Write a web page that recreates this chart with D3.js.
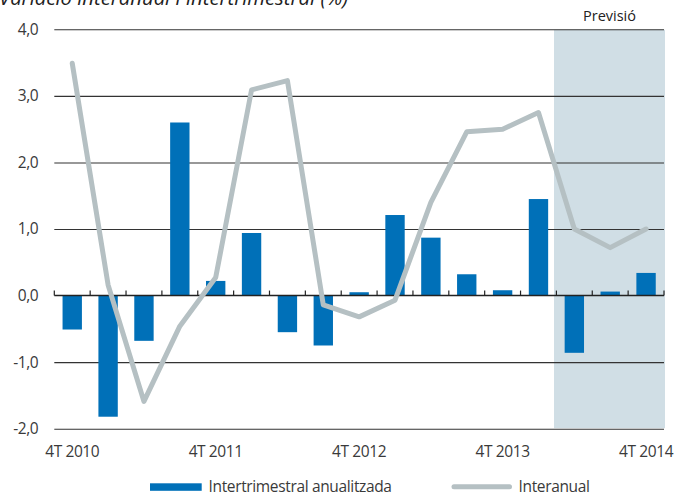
<!DOCTYPE html>
<html>
<head>
<meta charset="utf-8">
<script src="https://cdn.jsdelivr.net/npm/d3@7"></script>
<style>
  html, body { margin: 0; padding: 0; background: #fff; }
  svg { display: block; }
  text { font-family: "Open Sans", "Noto Sans", sans-serif; fill: #3a3a3a; }
</style>
</head>
<body>
<svg id="chart" width="688" height="493"></svg>
<script>
// ---- Data ----
const categories = [
  "4T 2010", "1T 2011", "2T 2011", "3T 2011", "4T 2011",
  "1T 2012", "2T 2012", "3T 2012", "4T 2012",
  "1T 2013", "2T 2013", "3T 2013", "4T 2013",
  "1T 2014", "2T 2014", "3T 2014", "4T 2014"
];
const intertrimestral = [
  -0.51, -1.82, -0.68, 2.60, 0.22,
  0.94, -0.55, -0.75, 0.05,
  1.21, 0.87, 0.32, 0.08,
  1.45, -0.86, 0.06, 0.34
];
const interanual = [
  3.49, 0.16, -1.59, -0.46, 0.27,
  3.09, 3.23, -0.14, -0.32,
  -0.07, 1.40, 2.46, 2.50,
  2.75, 1.00, 0.72, 1.00
];
const xTickLabels = ["4T 2010", "4T 2011", "4T 2012", "4T 2013", "4T 2014"];
const yTicks = [-2, -1, 0, 1, 2, 3, 4];
const forecastStart = "2T 2014";
const title = "Variació interanual i intertrimestral (%)";
const forecastLabel = "Previsió";
const legendLabels = ["Intertrimestral anualitzada", "Interanual"];

(function () {
// ---- Layout ----
const svg = d3.select("#chart");
const mLeft = 54.3, mRight = 664, mTop = 29.3, mBottom = 428.7;
const barColor = "#0070b8";
const lineColor = "#b5c0c3";
const shadeColor = "#d0dee5";

const x = d3.scaleBand().domain(categories).range([mLeft, mRight])
  .paddingInner(0.46).paddingOuter(0.23);
const step = x.step();
const edge = c => x(c) - step * 0.23;
const center = c => x(c) + x.bandwidth() / 2;
const y = d3.scaleLinear().domain([-2, 4]).range([mBottom, mTop]);

// title
svg.append("text").attr("x", -1).attr("y", 5)
  .attr("font-style", "italic").attr("font-size", 20.3)
  .style("fill", "#222").text(title);

// forecast shading
const shadeX = edge(forecastStart) - 2.4;
svg.append("rect")
  .attr("x", shadeX)
  .attr("y", y(4) + 0.5)
  .attr("width", mRight + 1 - shadeX)
  .attr("height", y(-2) - y(4) - 1)
  .attr("fill", shadeColor);

svg.append("text")
  .attr("x", (shadeX + mRight) / 2 + 0.5)
  .attr("y", 21).attr("text-anchor", "middle")
  .attr("font-size", 14.5).style("fill", "#222")
  .text(forecastLabel);

// gridlines + y labels
const yAxis = d3.axisLeft(y).tickValues(yTicks)
  .tickSize(-(mRight - mLeft))
  .tickFormat(d => d3.format(".1f")(d).replace(".", ",").replace("\u2212", "-"));
const gy = svg.append("g").attr("transform", `translate(${mLeft},0)`).call(yAxis);
gy.select(".domain").remove();
gy.selectAll(".tick line").attr("stroke", "#333").attr("stroke-width", 1.1)
  .filter(d => d === 0).remove();
gy.selectAll(".tick text").attr("x", -16).attr("font-size", 15.5)
  .style("fill", "#3a3a3a").style("font-family", "'Open Sans', sans-serif")
  .attr("letter-spacing", -0.4);

// bars
svg.append("g").selectAll("rect").data(categories).join("rect")
  .attr("x", c => x(c))
  .attr("width", x.bandwidth())
  .attr("y", (c, i) => y(Math.max(0, intertrimestral[i])))
  .attr("height", (c, i) => Math.abs(y(intertrimestral[i]) - y(0)))
  .attr("fill", barColor);

// zero axis with ticks at band edges
const gz = svg.append("g").attr("transform", `translate(0,${y(0)})`);
gz.append("line").attr("x1", mLeft).attr("x2", mRight)
  .attr("stroke", "#222").attr("stroke-width", 1.6);
const edges = categories.map(edge).concat([mRight]);
gz.selectAll("line.tk").data(edges).join("line").attr("class", "tk")
  .attr("x1", d => d).attr("x2", d => d).attr("y1", 0).attr("y2", -5)
  .attr("stroke", "#222").attr("stroke-width", 1.2);

// line
const line = d3.line().x(c => center(c)).y((c, i) => y(interanual[i]));
svg.append("path").datum(categories)
  .attr("d", line)
  .attr("fill", "none")
  .attr("stroke", lineColor)
  .attr("stroke-width", 5)
  .attr("stroke-linejoin", "round")
  .attr("stroke-linecap", "round");

// x labels
svg.append("g").selectAll("text").data(xTickLabels).join("text")
  .attr("x", c => center(c))
  .attr("y", 456.5)
  .attr("text-anchor", "middle")
  .attr("font-size", 15.5)
  .attr("letter-spacing", -0.4)
  .text(c => c);

// legend
const lg = svg.append("g");
lg.append("rect").attr("x", 150).attr("y", 483.3).attr("width", 51.7).attr("height", 7.5)
  .attr("fill", barColor);
lg.append("text").attr("x", 208.5).attr("y", 492).attr("font-size", 15.5)
  .attr("letter-spacing", -0.35).text(legendLabels[0]);
lg.append("line").attr("x1", 454).attr("x2", 509.5).attr("y1", 486.7).attr("y2", 486.7)
  .attr("stroke", lineColor).attr("stroke-width", 5).attr("stroke-linecap", "round");
lg.append("text").attr("x", 518.5).attr("y", 492).attr("font-size", 15.5)
  .attr("letter-spacing", -0.35).text(legendLabels[1]);
})();
</script>
</body>
</html>
